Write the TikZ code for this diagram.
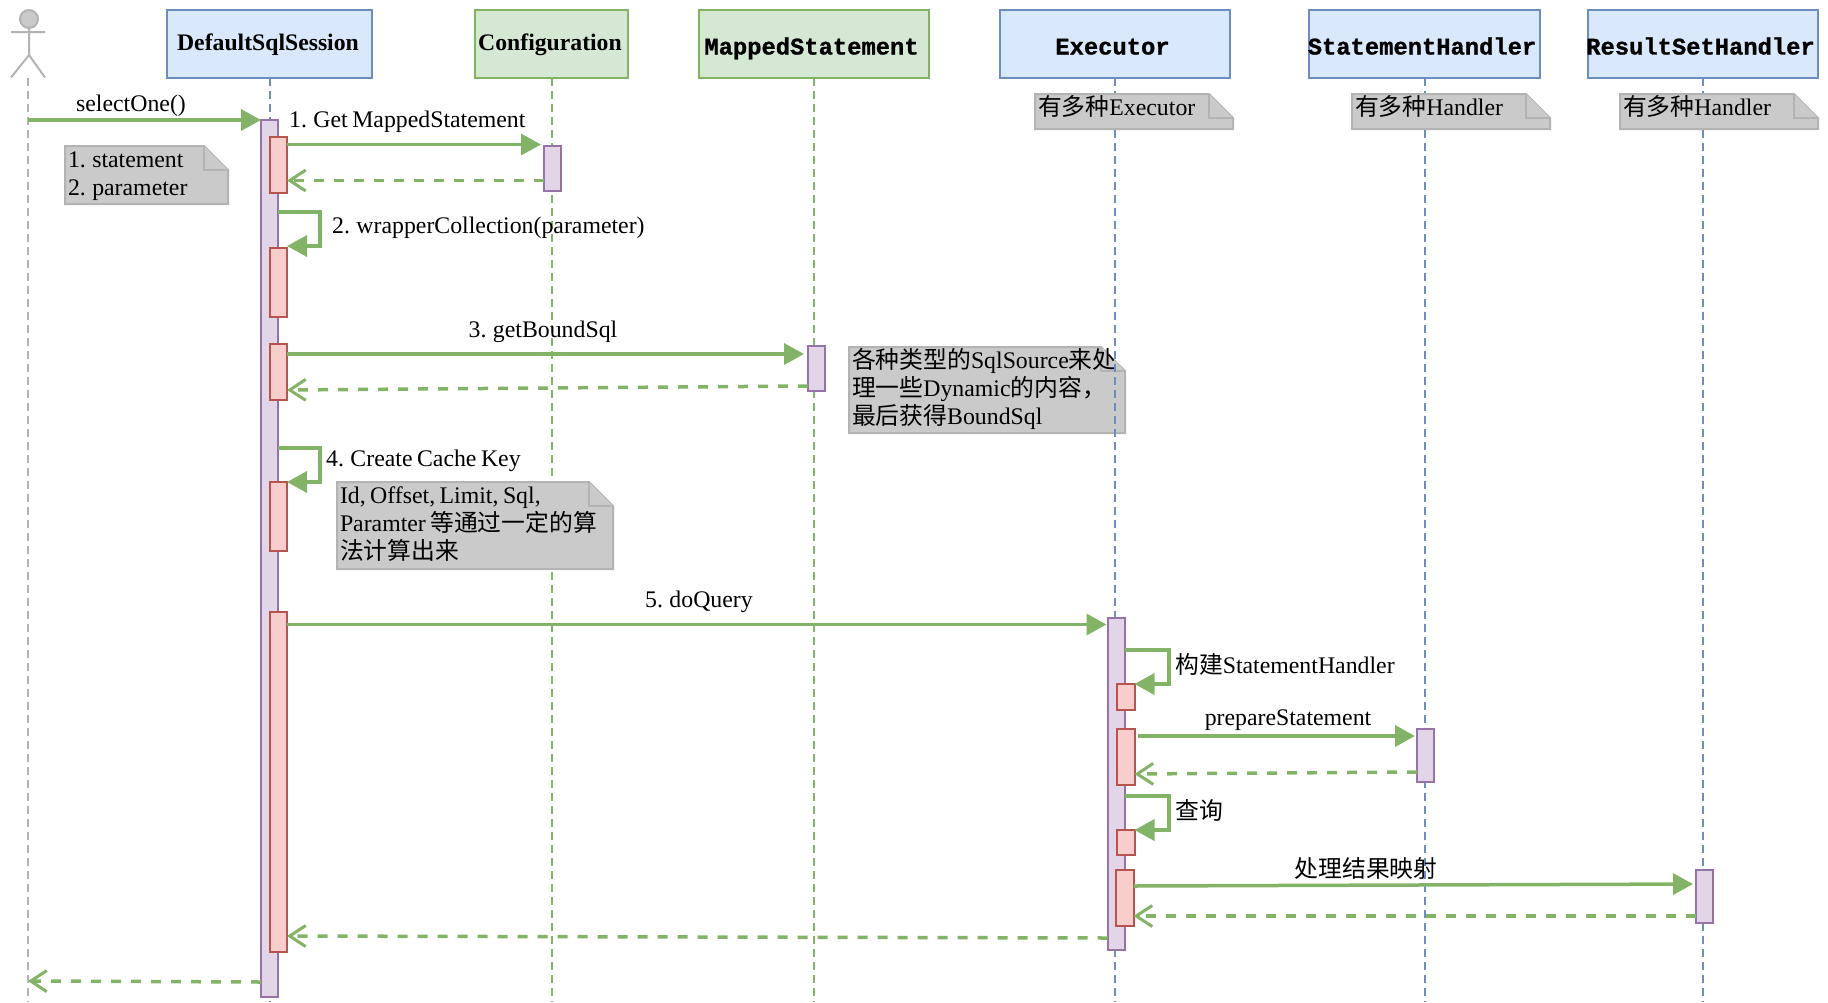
\documentclass[tikz,border=0pt]{standalone}
\usepackage{fontspec}
\setmainfont[WordSpace=0.75]{Liberation Serif}
\setmonofont[BoldFeatures={FakeBold=1}]{Liberation Mono}
\newfontfamily\cjk{Noto Sans CJK SC}
\usetikzlibrary{
  positioning,
  arrows.meta
}
\definecolor{bluefill}{HTML}{DAE8FC}
\definecolor{bluedraw}{HTML}{6C8EBF}
\definecolor{greenfill}{HTML}{D5E8D4}
\definecolor{greendraw}{HTML}{82B366}
\definecolor{purplefill}{HTML}{E1D5E7}
\definecolor{purpledraw}{HTML}{9673A6}
\definecolor{redfill}{HTML}{F8CECC}
\definecolor{reddraw}{HTML}{B85450}
\definecolor{notefill}{HTML}{CACACA}
\definecolor{notedraw}{HTML}{B3B3B3}
\newcommand{\sqnote}[6]{
  \draw[notebody] (#2,#3) -- ++({#4-24},0) -- ++(24,24) -- ++(0,{#5-24}) -- ++(-#4,0) -- cycle;
  \draw[notebody] ({#2+#4-24},#3) -- ++(0,24) -- ++(24,0);
  \node[notetext] (#1) at ({#2+1},{#3-1}) {\rule{0pt}{20pt}#6};
}
\begin{document}
\begin{tikzpicture}[
    x=1pt, y=-1pt, font=\fontsize{23.8}{28}\selectfont,
    bluebox/.style={draw=bluedraw,fill=bluefill,line width=2pt,outer sep=0pt,
      minimum width=#1,minimum height=68.5pt,inner sep=0pt},
    greenbox/.style={draw=greendraw,fill=greenfill,line width=2pt,outer sep=0pt,
      minimum width=#1,minimum height=68.5pt,inner sep=0pt},
    sertitle/.style={font=\fontsize{23.7}{28}\selectfont\bfseries,text height=18pt,text depth=5pt,
      inner xsep=-3pt,execute at end node=\hspace*{3pt}},
    montitle/.style={font=\fontsize{23.8}{28}\selectfont\ttfamily\bfseries,text height=21pt,text depth=0pt,
      inner xsep=-4pt,execute at end node=\hspace*{5pt}},
    actbar/.style={draw=purpledraw,fill=purplefill,line width=2pt,outer sep=0pt,
      anchor=north west,minimum width=17pt,inner sep=0pt},
    redbar/.style={draw=reddraw,fill=redfill,line width=2pt,outer sep=0pt,
      anchor=north west,minimum width=17.5pt,inner sep=0pt},
    lifeblue/.style={draw=bluedraw,line width=2pt,dash pattern=on 8pt off 5pt},
    lifegreen/.style={draw=greendraw,line width=2pt,dash pattern=on 8pt off 5pt},
    lifegray/.style={draw=notedraw,line width=2pt,dash pattern=on 8pt off 5pt},
    msg/.style={draw=greendraw,line width=3.5pt,
      -{Triangle[length=20pt,width=21pt,fill=greendraw]}},
    ret/.style={draw=greendraw,line width=3.5pt,dash pattern=on 10pt off 10pt,
      -{Straight Barb[length=16pt,width=21pt,line width=3pt]}},
    notebody/.style={draw=notedraw,fill=notefill,line width=2pt,line join=miter},
    notetext/.style={anchor=north west,align=left,inner sep=2pt,outer sep=0pt},
    lbl/.style={inner sep=0pt}
  ]
  \useasboundingbox (0,0) rectangle (1828,1002);

  % actor
  \draw[notedraw,fill=notefill,line width=2pt] (29,19) ellipse (9 and 9);
  \draw[notedraw,line width=2pt] (29,28) -- (29,55) (11,32) -- (45,32)
    (11,77.5) -- (29,55) -- (45,77.5);
  \coordinate (actorfoot) at (28,78);

  % header boxes
  \node[bluebox=205pt,sertitle] (sessbox) at (269.5,44) {DefaultSqlSession};
  \node[greenbox=153pt,sertitle] (cfgbox) at (551.5,44) {Configuration};
  \node[greenbox=230pt,montitle] (msbox) at (814,44) {MappedStatement};
  \node[bluebox=230pt,montitle] (execbox) at (1115,44) {Executor};
  \node[bluebox=231pt,montitle] (shbox) at (1424.5,44) {StatementHandler};
  \node[bluebox=230pt,montitle] (rshbox) at (1703,44) {ResultSetHandler};

  \sqnote{msnote}{849}{347}{276}{86}{{\cjk 各种类型的}SqlSource{\cjk 来处}\\{\cjk 理一些}Dynamic{\cjk 的内容，}\\{\cjk 最后获得}BoundSql}

  % lifelines
  \draw[lifegray] (actorfoot) -- (28,1002);
  \draw[lifeblue] (sessbox.south) -- (sessbox.south |- 0,1002);
  \draw[lifegreen] (cfgbox.south) -- (cfgbox.south |- 0,1002);
  \draw[lifegreen] (msbox.south) -- (msbox.south |- 0,1002);
  \draw[lifeblue] (execbox.south) -- (execbox.south |- 0,1002);
  \draw[lifeblue] (shbox.south) -- (shbox.south |- 0,1002);
  \draw[lifeblue] (rshbox.south) -- (rshbox.south |- 0,1002);

  % notes
  \sqnote{paramnote}{65}{146}{163}{58}{1. statement\\2. parameter}
  \sqnote{keynote}{337}{482}{276}{87}{Id, Offset, Limit, Sql,\\Paramter {\cjk 等通过一定的算}\\{\cjk 法计算出来}}
  \sqnote{execnote}{1035}{94}{198}{35}{{\cjk 有多种}Executor}
  \sqnote{shnote}{1352}{94}{198}{35}{{\cjk 有多种}Handler}
  \sqnote{rshnote}{1620}{94}{198}{35}{{\cjk 有多种}Handler}

  % activations
  \node[actbar,minimum height=877pt] (sessact) at (261,120) {};
  \node[redbar,minimum height=56pt] (sessred1) at (269.5,137) {};
  \node[redbar,minimum height=69pt] (sessred2) at (269.5,248) {};
  \node[redbar,minimum height=56pt] (sessred3) at (269.5,344) {};
  \node[redbar,minimum height=69pt] (sessred4) at (269.5,482) {};
  \node[redbar,minimum height=340pt] (sessred5) at (269.5,612) {};
  \node[actbar,minimum height=45pt] (cfgact) at (544,145.5) {};
  \node[actbar,minimum height=45pt] (msact) at (808,346) {};
  \node[actbar,minimum height=332pt] (execact) at (1107.5,618) {};
  \node[redbar,minimum height=26pt] (execred1) at (1117,684) {};
  \node[redbar,minimum height=56pt] (execred2) at (1117,729) {};
  \node[redbar,minimum height=25pt] (execred3) at (1117,830) {};
  \node[redbar,minimum height=56pt] (execred4) at (1116,870) {};
  \node[actbar,minimum height=53pt] (shact) at (1417,729) {};
  \node[actbar,minimum height=53pt] (rshact) at (1696,870) {};

  % messages
  \draw[msg] (actorfoot |- 0,120) -- (sessact.west |- 0,120);
  \draw[msg,shorten >=3pt] (sessred1.east |- 0,144.5) -- (cfgact.west |- 0,144.5);
  \draw[ret] (cfgact.west |- 0,180.5) -- (sessred1.east |- 0,180.5);
  \coordinate (turn2) at (320,246);
  \draw[msg,line join=miter] (sessact.east |- 0,212) -| (turn2) -- (sessred2.east |- turn2);
  \draw[msg,shorten >=4pt] (sessred3.east |- 0,354) -- (msact.west |- 0,354);
  \draw[ret] (msact.west |- 0,386) -- (sessred3.east |- 0,390);
  \coordinate (turn4) at (320,482);
  \draw[msg,line join=miter] (sessact.east |- 0,448) -| (turn4) -- (sessred4.east |- turn4);
  \draw[msg,shorten >=1pt] (sessred5.east |- 0,624.5) -- (execact.west |- 0,624.5);
  \coordinate (turna) at (1169,684);
  \draw[msg,line join=miter] (execact.east |- 0,650) -| (turna) -- (execred1.east |- turna);
  \draw[msg,shorten <=3pt,shorten >=2pt] (execred2.east |- 0,736) -- (shact.west |- 0,736);
  \draw[ret] (shact.west |- 0,772) -- (execred2.east |- 0,774);
  \coordinate (turnb) at (1169,830);
  \draw[msg,line join=miter] (execact.east |- 0,796) -| (turnb) -- (execred3.east |- turnb);
  \draw[msg,shorten >=3pt] (execred4.east |- 0,886) -- (rshact.west |- 0,884);
  \draw[ret] (rshact.west |- 0,916) -- (execred4.east |- 0,916);
  \draw[ret] (execact.west |- 0,938) -- (sessred5.east |- 0,936);
  \draw[ret] (sessact.west |- 0,982) -- (actorfoot |- 0,981);

  % message labels
  \node[lbl] (selectlbl) at (131,106) {selectOne()};
  \node[lbl,anchor=west] (getlbl) at (289,122) {1. Get MappedStatement};
  \node[lbl,anchor=west] (wraplbl) at (332,228) {2. wrapperCollection(parameter)};
  \node[lbl] (boundlbl) at (543,332) {3. getBoundSql};
  \node[lbl,anchor=west] (cachelbl) at (326,461) {4. Create Cache Key};
  \node[lbl] (querylbl) at (699,602) {5. doQuery};
  \node[lbl,anchor=west] (buildlbl) at (1175,664) {{\cjk 构建}StatementHandler};
  \node[lbl] (preplbl) at (1288,720) {prepareStatement};
  \node[lbl,anchor=west] (findlbl) at (1175,810) {\cjk 查询};
  \node[lbl] (maplbl) at (1366,868) {\cjk 处理结果映射};
\end{tikzpicture}
\end{document}
